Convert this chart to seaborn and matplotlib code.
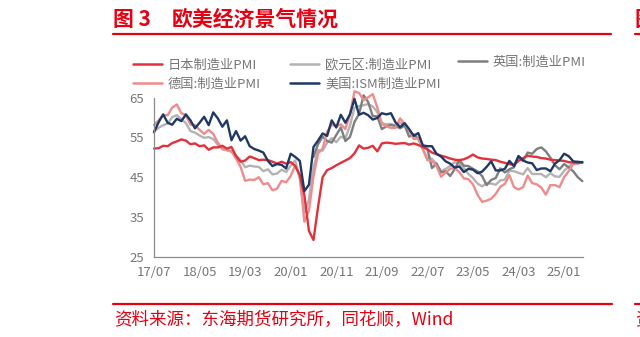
import numpy as np
import pandas as pd
import matplotlib
matplotlib.use("Agg")
import matplotlib.pyplot as plt
import seaborn as sns
from matplotlib.lines import Line2D

# ---------------- data ----------------
start_month = "2017-07-01"
n_months = 95  # 2017/07 .. 2025/05

xtick_labels = ["17/07", "18/05", "19/03", "20/01", "20/11",
                "21/09", "22/07", "23/05", "24/03", "25/01"]
yticks = [25, 35, 45, 55, 65]

series_names = ["日本制造业PMI", "欧元区:制造业PMI", "英国:制造业PMI",
                "德国:制造业PMI", "美国:ISM制造业PMI"]

japan = [52.2, 52.3, 52.9, 52.8, 53.6, 54.0, 54.5, 54.2, 53.3, 53.5,
         52.8, 53.0, 51.9, 52.5, 52.5, 52.9, 52.2, 52.6, 50.3, 48.9,
         49.2, 50.2, 49.8, 49.3, 49.4, 49.3, 48.9, 48.4, 48.9, 48.4,
         48.8, 47.8, 45.5, 40.5, 31.5, 29.2, 37.5, 45.0, 46.8, 47.3,
         48.0, 48.6, 49.2, 49.8, 51.0, 53.0, 52.2, 52.4, 52.9, 51.5,
         53.5, 53.7, 53.6, 53.4, 53.5, 53.6, 53.2, 53.5, 53.1, 52.6,
         52.0, 51.2, 50.8, 50.4, 50.1, 49.7, 49.4, 49.3, 49.5, 50.0,
         50.7, 50.0, 49.7, 49.6, 49.4, 49.3, 48.9, 48.6, 48.3, 48.1,
         49.1, 49.8, 50.4, 50.2, 50.1, 49.8, 49.7, 49.4, 49.3, 49.2,
         49.1, 48.8, 48.7, 48.7, 48.7]

eurozone = [56.6, 57.4, 58.1, 58.5, 60.1, 60.6, 59.6, 58.6, 56.6, 56.2,
            55.5, 54.9, 55.1, 54.6, 53.2, 52.0, 51.8, 51.4, 50.5, 49.3,
            47.5, 47.9, 47.7, 47.6, 46.5, 47.0, 45.7, 45.9, 46.9, 46.3,
            47.9, 49.2, 44.5, 36.0, 39.4, 47.4, 51.8, 51.7, 53.7, 54.8,
            53.8, 55.2, 54.8, 57.9, 62.5, 62.9, 63.1, 63.4, 62.8, 61.4,
            58.6, 58.3, 58.4, 58.0, 58.7, 58.2, 56.5, 55.5, 54.6, 52.1,
            49.8, 49.6, 48.4, 46.4, 47.1, 47.8, 48.8, 48.5, 47.3, 45.8,
            44.8, 43.4, 42.7, 43.5, 43.4, 43.1, 44.2, 44.4, 46.6, 46.5,
            46.1, 45.7, 47.3, 45.8, 45.8, 45.8, 45.0, 46.0, 45.2, 45.1,
            46.6, 47.6, 48.6, 49.0, 48.6]

uk = [np.nan] * 35 + [
    50.1, 53.3, 55.2, 54.1, 53.7,
    55.6, 57.5, 54.1, 55.1, 58.9, 60.9, 65.6, 63.9, 60.4, 60.3,
    57.1, 57.8, 58.1, 57.9, 57.3, 58.0, 55.2, 55.8, 54.6, 52.8,
    52.1, 47.3, 48.4, 46.2, 46.5, 45.3, 47.0, 49.3, 47.9, 47.8,
    47.1, 46.5, 45.3, 43.0, 44.3, 44.8, 47.2, 46.2, 47.0, 47.5,
    50.3, 49.1, 51.2, 50.9, 52.1, 52.5, 51.5, 49.9, 48.0, 47.0,
    48.3, 47.5, 46.5, 45.0, 44.0]

germany = [58.1, 59.3, 60.6, 60.6, 62.5, 63.3, 61.1, 60.6, 58.2, 58.1,
           56.9, 55.9, 56.9, 55.9, 53.7, 52.2, 51.8, 51.5, 49.7, 47.6,
           44.1, 44.4, 44.3, 45.0, 43.2, 43.5, 41.7, 42.1, 44.1, 43.7,
           45.3, 48.0, 45.4, 33.8, 36.6, 45.2, 51.0, 52.2, 56.4, 58.2,
           57.8, 58.3, 57.1, 60.7, 66.6, 66.2, 64.4, 65.1, 65.9, 62.6,
           58.4, 57.8, 57.4, 57.4, 59.8, 58.4, 56.9, 54.6, 54.8, 52.0,
           49.3, 49.1, 47.8, 45.1, 46.2, 47.1, 47.3, 46.3, 44.7, 44.5,
           43.2, 40.6, 38.8, 39.1, 39.6, 40.8, 42.6, 43.3, 45.5, 42.5,
           41.9, 42.5, 45.4, 43.5, 43.2, 42.4, 40.6, 43.0, 43.0, 42.5,
           45.0, 46.5, 48.3, 48.4, 48.8]

usa = [56.3, 58.8, 60.8, 58.7, 58.2, 59.7, 59.1, 60.8, 59.3, 57.3,
       58.7, 60.2, 58.1, 61.3, 59.8, 57.7, 59.3, 54.3, 56.6, 54.2,
       55.3, 52.8, 52.1, 51.7, 51.2, 49.1, 47.8, 48.3, 48.1, 47.2,
       50.9, 50.1, 49.1, 41.5, 43.1, 52.6, 54.2, 56.0, 55.4, 59.3,
       57.5, 60.7, 58.7, 60.8, 64.7, 60.7, 61.2, 60.6, 59.5, 59.9,
       61.1, 60.8, 61.1, 58.8, 57.6, 58.6, 57.1, 55.4, 56.1, 53.0,
       52.8, 52.8, 50.9, 50.2, 49.0, 48.4, 47.4, 47.7, 46.3, 47.1,
       46.9, 46.0, 46.4, 47.6, 49.0, 46.7, 46.7, 47.1, 49.1, 47.8,
       50.3, 49.2, 48.7, 48.5, 46.8, 47.2, 47.2, 46.5, 48.4, 49.3,
       50.9, 50.3, 49.0, 48.8, 48.8]

# ---------------- style ----------------
RED = "#e60012"
TXT = "#767676"
colors = {
    "日本制造业PMI": "#e2313b",
    "欧元区:制造业PMI": "#b3b3b3",
    "英国:制造业PMI": "#7f7f7f",
    "德国:制造业PMI": "#ee8c8c",
    "美国:ISM制造业PMI": "#1f3864",
}

sns.set_style("white")
plt.rcParams["font.family"] = ["Noto Sans CJK SC", "DejaVu Sans"]
plt.rcParams["axes.unicode_minus"] = False

W, H = 640, 337
fig = plt.figure(figsize=(W / 100, H / 100), dpi=100)
fig.patch.set_facecolor("white")

ax_left, ax_right, ax_top, ax_bottom = 154, 583, 97.7, 256.7
ax = fig.add_axes([ax_left / W, 1 - ax_bottom / H,
                   (ax_right - ax_left) / W, (ax_bottom - ax_top) / H])

month_str = pd.date_range(start_month, periods=n_months, freq="MS").strftime("%y/%m")
idx = np.arange(n_months)

df = pd.DataFrame({
    "idx": np.tile(idx, 5),
    "series": np.repeat(series_names, n_months),
    "value": np.concatenate([japan, eurozone, uk, germany, usa]),
})

draw_order = ["欧元区:制造业PMI", "英国:制造业PMI", "德国:制造业PMI",
              "日本制造业PMI", "美国:ISM制造业PMI"]
for name in draw_order:
    sub = df[df["series"] == name].dropna()
    sns.lineplot(data=sub, x="idx", y="value", color=colors[name], lw=1.7,
                 estimator=None, errorbar=None, legend=False, ax=ax)

for ln in ax.get_lines():
    ln.set_clip_on(False)
    ln.set_solid_joinstyle("round")

ax.set_xlim(0, 94.15)
ax.set_ylim(25, 65)
ax.set_yticks(yticks)
tick_pos = [int(np.where(month_str == lab)[0][0]) for lab in xtick_labels]
ax.set_xticks(tick_pos)
ax.set_xticklabels(xtick_labels)
ax.set_xlabel("")
ax.set_ylabel("")

for s in ["top", "right"]:
    ax.spines[s].set_visible(False)
for s in ["left", "bottom"]:
    ax.spines[s].set_color("#8c8c8c")
    ax.spines[s].set_linewidth(0.9)
ax.tick_params(axis="both", direction="out", length=4, width=0.9,
               color="#8c8c8c", labelcolor=TXT, labelsize=9.5)
ax.tick_params(axis="y", pad=3)
ax.tick_params(axis="x", pad=2.5)
ax.set_facecolor("white")

# ---------------- legend (three column blocks) ----------------
leg_kw = dict(frameon=False, fontsize=9.5, handlelength=2.2, handletextpad=0.45,
              labelspacing=0.45, borderpad=0, borderaxespad=0, labelcolor=TXT,
              loc="center left", bbox_transform=fig.transFigure)

def proxy(name):
    return Line2D([], [], color=colors[name], lw=1.8)

cols = [
    (["日本制造业PMI", "德国:制造业PMI"], 133, 74.5),
    (["欧元区:制造业PMI", "美国:ISM制造业PMI"], 290, 74.5),
    (["英国:制造业PMI"], 458, 62),
]
for names, xpx, ypx in cols:
    fig.legend(handles=[proxy(n) for n in names], labels=names,
               bbox_to_anchor=(xpx / W, 1 - ypx / H), **leg_kw)

# ---------------- title / source / rules ----------------
fig.text(113 / W, 1 - 19 / H, "图 3", color=RED, fontsize=15, fontweight="bold",
         va="center", ha="left")
fig.text(172 / W, 1 - 19 / H, "欧美经济景气情况", color=RED, fontsize=15,
         fontweight="bold", va="center", ha="left")
fig.add_artist(Line2D([113 / W, 611 / W], [1 - 33.5 / H] * 2,
                      transform=fig.transFigure, color=RED, lw=1.6))
fig.add_artist(Line2D([113 / W, 612 / W], [1 - 304 / H] * 2,
                      transform=fig.transFigure, color=RED, lw=1.6))
fig.text(114 / W, 1 - 320.5 / H, "资料来源：东海期货研究所，同花顺，Wind",
         color=RED, fontsize=12.6, va="center", ha="left")

# fragments of the neighbouring chart at the right edge (cut off, as in the reference)
fig.text(635 / W, 1 - 19 / H, "图", color=RED, fontsize=15, fontweight="bold",
         va="center", ha="left")
fig.add_artist(Line2D([635 / W, 1.0], [1 - 33.5 / H] * 2,
                      transform=fig.transFigure, color=RED, lw=1.6))
fig.add_artist(Line2D([635 / W, 1.0], [1 - 304 / H] * 2,
                      transform=fig.transFigure, color=RED, lw=1.6))
fig.text(635 / W, 1 - 320.5 / H, "资", color=RED, fontsize=12.6,
         va="center", ha="left")

fig.savefig("out.png", dpi=100, facecolor="white")
